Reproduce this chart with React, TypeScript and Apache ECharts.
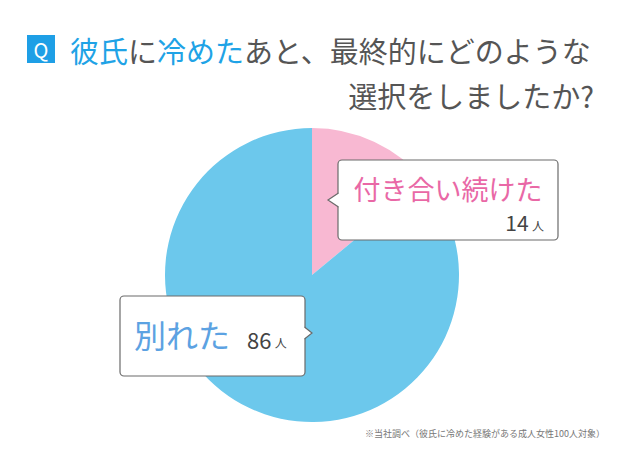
import React, { useEffect, useRef } from "react";
import * as echarts from "echarts";

const categories = ["付き合い続けた", "別れた"];
const values = [14, 86];
const unit = "人";
const sliceColors = ["#F8B8D2", "#6CC8EC"];
const labelColors = ["#E968A6", "#5CA2E2"];
const titleParts = [
  { t: "彼氏", s: "b" },
  { t: "に", s: "g" },
  { t: "冷めた", s: "b" },
  { t: "あと、最終的にどのような", s: "g" },
];
const titleLine2 = "選択をしましたか?";
const footnote = "※当社調べ（彼氏に冷めた経験がある成人女性100人対象）";

const FONT = "'Noto Sans CJK JP', 'Noto Sans', sans-serif";

export default function App() {
  const ref = useRef<HTMLDivElement>(null);
  useEffect(() => {
    const chart = echarts.init(ref.current!, null, { renderer: "svg" });
    const titleRich = titleParts.map((p) => `{${p.s}|${p.t}}`).join("");
    const stroke = "#6b6b6b";
    const graphics: any[] = [
      // Title
      {
        type: "rect",
        shape: { x: 27, y: 35, width: 28, height: 28 },
        style: { fill: "#1E9FE6" },
      },
      {
        type: "text",
        x: 41,
        y: 49,
        style: {
          text: "Q",
          font: `20px ${FONT}`,
          fill: "#ffffff",
          align: "center",
          verticalAlign: "middle",
        },
      },
      {
        type: "text",
        x: 70,
        y: 50,
        style: {
          text: titleRich,
          font: `29px ${FONT}`,
          verticalAlign: "middle",
          rich: {
            b: { fill: "#1FA3E6", font: `29px ${FONT}` },
            g: { fill: "#555555", font: `29px ${FONT}` },
          },
        },
      },
      {
        type: "text",
        x: 594,
        y: 95,
        style: {
          text: titleLine2,
          font: `29px ${FONT}`,
          fill: "#555555",
          align: "right",
          verticalAlign: "middle",
        },
      },
      // Callout 1 (pink)
      {
        type: "rect",
        shape: { x: 338, y: 160, width: 220, height: 80, r: 4 },
        style: { fill: "#ffffff", stroke, lineWidth: 1.2 },
      },
      {
        type: "polygon",
        shape: { points: [[339, 193], [328, 200], [339, 207]] },
        style: { fill: "#ffffff" },
      },
      {
        type: "polyline",
        shape: { points: [[338.5, 193], [328, 200], [338.5, 207]] },
        style: { stroke, lineWidth: 1.2, fill: null },
      },
      {
        type: "text",
        x: 448,
        y: 188,
        style: {
          text: categories[0],
          font: `27px ${FONT}`,
          fill: labelColors[0],
          align: "center",
          verticalAlign: "middle",
        },
      },
      {
        type: "text",
        x: 544,
        y: 222,
        style: {
          text: `{n|${values[0]}} {u|${unit}}`,
          align: "right",
          verticalAlign: "middle",
          rich: {
            n: { font: `21px ${FONT}`, fill: "#444444" },
            u: { font: `12px ${FONT}`, fill: "#444444", padding: [6, 0, 0, 0] },
          },
        },
      },
      // Callout 2 (blue)
      {
        type: "rect",
        shape: { x: 120, y: 296, width: 185, height: 80, r: 4 },
        style: { fill: "#ffffff", stroke, lineWidth: 1.2 },
      },
      {
        type: "polygon",
        shape: { points: [[304, 327], [312, 333], [304, 339]] },
        style: { fill: "#ffffff" },
      },
      {
        type: "polyline",
        shape: { points: [[304.5, 327], [312, 333], [304.5, 339]] },
        style: { stroke, lineWidth: 1.2, fill: null },
      },
      {
        type: "text",
        x: 134,
        y: 334,
        style: {
          text: categories[1],
          font: `32px ${FONT}`,
          fill: labelColors[1],
          align: "left",
          verticalAlign: "middle",
        },
      },
      {
        type: "text",
        x: 247,
        y: 339,
        style: {
          text: `{n|${values[1]}} {u|${unit}}`,
          align: "left",
          verticalAlign: "middle",
          rich: {
            n: { font: `22px ${FONT}`, fill: "#444444" },
            u: { font: `12px ${FONT}`, fill: "#444444", padding: [6, 0, 0, 0] },
          },
        },
      },
      // Footnote
      {
        type: "text",
        x: 605,
        y: 433,
        style: {
          text: footnote,
          font: `9px ${FONT}`,
          fill: "#777777",
          align: "right",
          verticalAlign: "middle",
        },
      },
    ];
    graphics.forEach((g, i) => {
      g.z = 100;
      g.zlevel = 0;
      g.z2 = i;
    });
    chart.setOption({
      animation: false,
      backgroundColor: "#ffffff",
      series: [
        {
          type: "pie",
          center: [312, 275],
          radius: 147,
          startAngle: 90,
          clockwise: true,
          z: 1,
          label: { show: false },
          labelLine: { show: false },
          silent: true,
          itemStyle: { borderWidth: 0 },
          data: categories.map((c, i) => ({
            name: c,
            value: values[i],
            itemStyle: { color: sliceColors[i] },
          })),
        },
      ],
      graphic: { elements: graphics },
    });
    return () => chart.dispose();
  }, []);
  return (
    <div
      ref={ref}
      style={{ position: "fixed", left: 0, top: 0, width: 625, height: 450 }}
    />
  );
}
